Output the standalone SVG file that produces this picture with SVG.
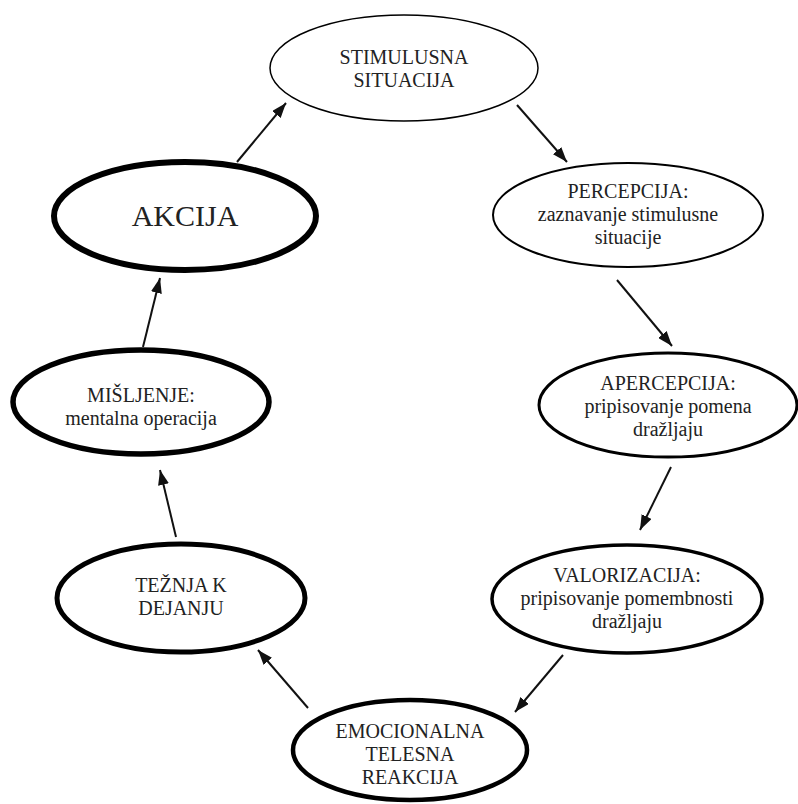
<svg xmlns="http://www.w3.org/2000/svg" width="798" height="804" viewBox="0 0 798 804">
<defs>
<marker id="ah" viewBox="0 0 10 10" refX="10" refY="5" markerWidth="15" markerHeight="11" markerUnits="userSpaceOnUse" orient="auto" preserveAspectRatio="none">
<path d="M0,0 L10,5 L0,10 z" fill="#111"/>
</marker>
<style>
.n ellipse{fill:#fff;stroke:#000}
.t{font-family:"Liberation Serif","Times New Roman",serif;font-size:20px;fill:#222;text-anchor:middle}
.c line{stroke:#111;stroke-width:2;marker-end:url(#ah)}
</style>
</defs>
<rect width="798" height="804" fill="#fff"/>
<g id="stimulus" class="n">
<ellipse cx="404" cy="68" rx="134" ry="53" stroke-width="1.5"/>
<text class="t" x="404" y="64">STIMULUSNA</text>
<text class="t" x="404" y="87">SITUACIJA</text>
</g>
<g id="percepcija" class="n">
<ellipse cx="628" cy="215" rx="135" ry="52" stroke-width="2"/>
<text class="t" x="628" y="198">PERCEPCIJA:</text>
<text class="t" x="628" y="221">zaznavanje stimulusne</text>
<text class="t" x="628" y="244">situacije</text>
</g>
<g id="apercepcija" class="n">
<ellipse cx="668" cy="405" rx="129" ry="52" stroke-width="3"/>
<text class="t" x="668" y="390">APERCEPCIJA:</text>
<text class="t" x="668" y="413">pripisovanje pomena</text>
<text class="t" x="668" y="436">dražljaju</text>
</g>
<g id="valorizacija" class="n">
<ellipse cx="627" cy="599" rx="135" ry="54" stroke-width="3.5"/>
<text class="t" x="627" y="582">VALORIZACIJA:</text>
<text class="t" x="627" y="605">pripisovanje pomembnosti</text>
<text class="t" x="627" y="628">dražljaju</text>
</g>
<g id="emocionalna" class="n">
<ellipse cx="410" cy="750" rx="117" ry="50" stroke-width="4.5"/>
<text class="t" x="410" y="738">EMOCIONALNA</text>
<text class="t" x="410" y="761">TELESNA</text>
<text class="t" x="410" y="784">REAKCIJA</text>
</g>
<g id="teznja" class="n">
<ellipse cx="181" cy="598" rx="124" ry="54" stroke-width="5"/>
<text class="t" x="181" y="592">TEŽNJA K</text>
<text class="t" x="181" y="615">DEJANJU</text>
</g>
<g id="misljenje" class="n">
<ellipse cx="141" cy="402" rx="128" ry="52" stroke-width="5.5"/>
<text class="t" x="141" y="402">MIŠLJENJE:</text>
<text class="t" x="141" y="425">mentalna operacija</text>
</g>
<g id="akcija" class="n">
<ellipse cx="185" cy="216" rx="131" ry="54" stroke-width="6"/>
<text class="t" x="185" y="226" style="font-size:30px">AKCIJA</text>
</g>
<g class="c" id="connectors">
<line x1="237" y1="162" x2="286" y2="103"/>
<line x1="517" y1="105" x2="567" y2="162"/>
<line x1="617" y1="280" x2="672" y2="346"/>
<line x1="671" y1="467" x2="640" y2="530"/>
<line x1="563" y1="655" x2="515" y2="712"/>
<line x1="308" y1="708" x2="258" y2="650"/>
<line x1="176" y1="537" x2="160" y2="470"/>
<line x1="143" y1="347" x2="160" y2="278"/>
</g>
</svg>
